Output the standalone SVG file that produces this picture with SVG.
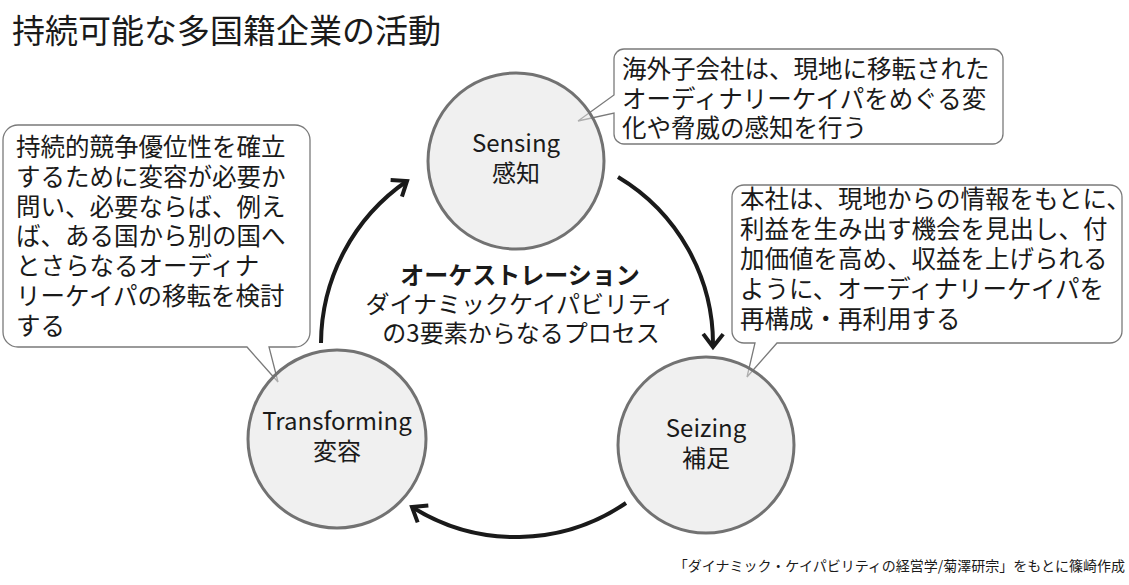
<svg xmlns="http://www.w3.org/2000/svg" width="1129" height="585" viewBox="0 0 1129 585">
<style>
text { font-family: "Noto Sans CJK JP", "Noto Sans", sans-serif; fill: #1a1a1a; }
.title { font-size: 33px; }
.co { font-size: 24.5px; }
.lbl { font-size: 24px; text-anchor: middle; }
.mid { font-size: 24px; text-anchor: middle; }
.bold { font-weight: bold; }
.foot { font-size: 14px; text-anchor: end; }
.callout { fill: #ffffff; stroke: #7a7a7a; stroke-width: 1.3; }
.circle { fill: #e2e2e2; fill-opacity: 0.5; stroke: #727272; stroke-width: 3; }
.arc { fill: none; stroke: #1a1a1a; stroke-width: 4; marker-end: url(#arrow); }
</style>
<defs>
<marker id="arrow" markerUnits="userSpaceOnUse" markerWidth="24" markerHeight="24" viewBox="-16 -12 20 24" refX="0" refY="0" orient="auto">
<path d="M-13,-10 L0,0 L-13,10" fill="none" stroke="#1a1a1a" stroke-width="4" stroke-linejoin="miter" stroke-linecap="butt"/>
</marker>
</defs>
<rect width="1129" height="585" fill="#ffffff"/>
<text class="title" x="12" y="43">持続可能な多国籍企業の活動</text>

<g id="callout-sensing">
<path class="callout" d="M624,49 H993 A10,10 0 0 1 1003,59 V134 A10,10 0 0 1 993,144 H624 A10,10 0 0 1 614,134 V113 L578,121 L614,95 V59 A10,10 0 0 1 624,49 Z"/>
<text class="co" x="622" y="78">海外子会社は、現地に移転された</text>
<text class="co" x="622" y="107.5">オーディナリーケイパをめぐる変</text>
<text class="co" x="622" y="137">化や脅威の感知を行う</text>
</g>

<g id="callout-transforming">
<path class="callout" d="M18,125 H295 A15,15 0 0 1 310,140 V332 A15,15 0 0 1 295,347 H269 L278,382 L247,347 H18 A15,15 0 0 1 3,332 V140 A15,15 0 0 1 18,125 Z"/>
<text class="co" x="16" y="156">持続的競争優位性を確立</text>
<text class="co" x="16" y="186">するために変容が必要か</text>
<text class="co" x="16" y="216">問い、必要ならば、例え</text>
<text class="co" x="16" y="245">ば、ある国から別の国へ</text>
<text class="co" x="16" y="275">とさらなるオーディナ</text>
<text class="co" x="16" y="305">リーケイパの移転を検討</text>
<text class="co" x="16" y="335">する</text>
</g>

<g id="callout-seizing">
<path class="callout" d="M744,185 H1110 A12,12 0 0 1 1122,197 V331 A12,12 0 0 1 1110,343 H777 L747,377 L755,343 H744 A12,12 0 0 1 732,331 V197 A12,12 0 0 1 744,185 Z"/>
<text class="co" x="740" y="208">本社は、現地からの情報をもとに、</text>
<text class="co" x="740" y="238">利益を生み出す機会を見出し、付</text>
<text class="co" x="740" y="268">加価値を高め、収益を上げられる</text>
<text class="co" x="740" y="298">ように、オーディナリーケイパを</text>
<text class="co" x="740" y="328">再構成・再利用する</text>
</g>

<g id="connectors">
<path class="arc" d="M618,177 A195,195 0 0 1 713,347"/>
<path class="arc" d="M626,503 A195,195 0 0 1 412,507"/>
<path class="arc" d="M321,343 A198,198 0 0 1 407,181"/>
</g>

<g id="node-sensing">
<circle class="circle" cx="516" cy="161" r="88"/>
<text class="lbl" x="516" y="152">Sensing</text>
<text class="lbl" x="516" y="182">感知</text>
</g>

<g id="node-seizing">
<circle class="circle" cx="706" cy="445" r="88"/>
<text class="lbl" x="706" y="437">Seizing</text>
<text class="lbl" x="706" y="467">補足</text>
</g>

<g id="node-transforming">
<circle class="circle" cx="337" cy="439" r="89"/>
<text class="lbl" x="337" y="430">Transforming</text>
<text class="lbl" x="337" y="460">変容</text>
</g>

<g id="center-label">
<text class="mid bold" x="520" y="284">オーケストレーション</text>
<text class="mid" x="520" y="313">ダイナミックケイパビリティ</text>
<text class="mid" x="521" y="342">の3要素からなるプロセス</text>
</g>

<text class="foot" x="1125" y="571">「ダイナミック・ケイパビリティの経営学/菊澤研宗」をもとに篠崎作成</text>
</svg>
